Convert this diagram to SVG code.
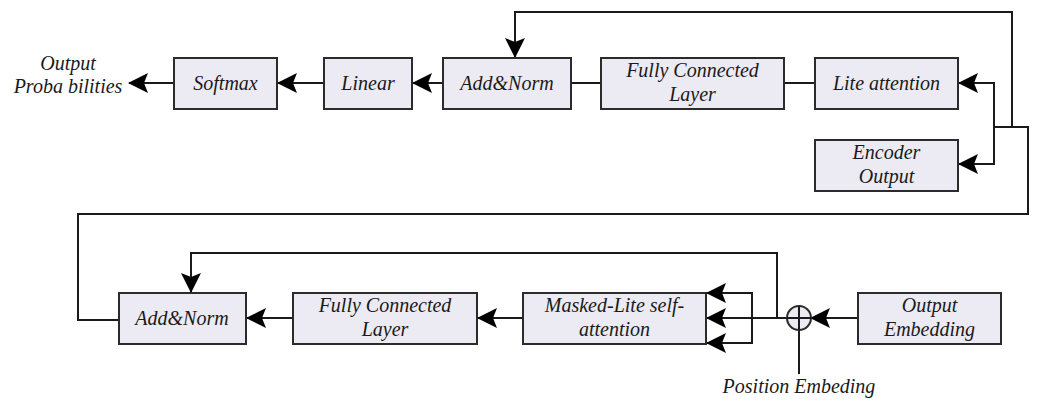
<svg xmlns="http://www.w3.org/2000/svg" width="1040" height="405" viewBox="0 0 1040 405">
  <style>
    .box { fill: #ECEAF2; stroke: #2b2b2b; stroke-width: 2; }
    .wire { fill: none; stroke: #1a1a1a; stroke-width: 2; }
    .lbl { font-family: 'Liberation Serif', 'Times New Roman', Times, 'DejaVu Serif', serif; font-style: italic; font-size: 20px; fill: #1a1a1a; text-anchor: middle; }
  </style>
  <defs>
    <marker id="arrow" markerUnits="userSpaceOnUse" markerWidth="20" markerHeight="20" viewBox="0 0 20 20" refX="19" refY="10" orient="auto">
      <path d="M0,0 L20,10 L0,20 L4,10 Z" fill="#000"/>
    </marker>
  </defs>

  <rect width="1040" height="405" fill="#fff"/>

  <!-- connectors -->
  <g id="connectors">
    <path class="wire" d="M174,83 H129" marker-end="url(#arrow)"/>
    <path class="wire" d="M324,83 H278" marker-end="url(#arrow)"/>
    <path class="wire" d="M443,83 H413" marker-end="url(#arrow)"/>
    <path class="wire" d="M601,83 H571"/>
    <path class="wire" d="M815,83 H784"/>
    <path class="wire" d="M1012,127 V12 H515 V57" marker-end="url(#arrow)"/>
    <path class="wire" d="M994,127 H1028 V214 H78 V320 H133"/>
    <path class="wire" d="M994,127 V83 H959" marker-end="url(#arrow)"/>
    <path class="wire" d="M994,127 V164 H959" marker-end="url(#arrow)"/>
    <path class="wire" d="M293,318 H247" marker-end="url(#arrow)"/>
    <path class="wire" d="M523,318 H478" marker-end="url(#arrow)"/>
    <path class="wire" d="M787,318 H707" marker-end="url(#arrow)"/>
    <path class="wire" d="M752,318 V293 H707" marker-end="url(#arrow)"/>
    <path class="wire" d="M752,318 V343 H707" marker-end="url(#arrow)"/>
    <path class="wire" d="M777,318 V253 H191 V292" marker-end="url(#arrow)"/>
    <path class="wire" d="M858,318 H811" marker-end="url(#arrow)"/>
    <path class="wire" d="M799,330 V374"/>
  </g>

  <!-- top row -->
  <g id="output-probabilities">
    <text class="lbl" x="68" y="70">Output</text>
    <text class="lbl" x="68" y="93">Proba bilities</text>
  </g>
  <g id="softmax">
    <rect class="box" x="174" y="58" width="103" height="51"/>
    <text class="lbl" x="225.5" y="90">Softmax</text>
  </g>
  <g id="linear">
    <rect class="box" x="324" y="58" width="88" height="51"/>
    <text class="lbl" x="368" y="90">Linear</text>
  </g>
  <g id="add-norm-top">
    <rect class="box" x="443" y="58" width="128" height="51"/>
    <text class="lbl" x="507" y="90">Add&amp;Norm</text>
  </g>
  <g id="fc-top">
    <rect class="box" x="601" y="58" width="183" height="51"/>
    <text class="lbl" x="692.5" y="77">Fully Connected</text>
    <text class="lbl" x="692.5" y="101">Layer</text>
  </g>
  <g id="lite-attention">
    <rect class="box" x="815" y="58" width="143" height="51"/>
    <text class="lbl" x="886.5" y="90">Lite attention</text>
  </g>
  <g id="encoder-output">
    <rect class="box" x="815" y="140" width="143" height="51"/>
    <text class="lbl" x="886.5" y="159">Encoder</text>
    <text class="lbl" x="886.5" y="183">Output</text>
  </g>

  <!-- bottom row -->
  <g id="add-norm-bottom">
    <rect class="box" x="119" y="293" width="127" height="51"/>
    <text class="lbl" x="182" y="325">Add&amp;Norm</text>
  </g>
  <g id="fc-bottom">
    <rect class="box" x="293" y="293" width="184" height="51"/>
    <text class="lbl" x="385" y="312">Fully Connected</text>
    <text class="lbl" x="385" y="336">Layer</text>
  </g>
  <g id="masked-lite-self-attention">
    <rect class="box" x="523" y="293" width="183" height="51"/>
    <text class="lbl" x="614.5" y="312">Masked-Lite self-</text>
    <text class="lbl" x="614.5" y="336">attention</text>
  </g>
  <g id="sum">
    <circle class="box" cx="799" cy="318" r="12"/>
    <path class="wire" d="M787,318 H811 M799,306 V330"/>
  </g>
  <g id="output-embedding">
    <rect class="box" x="858" y="293" width="143" height="51"/>
    <text class="lbl" x="929.5" y="312">Output</text>
    <text class="lbl" x="929.5" y="336">Embedding</text>
  </g>
  <g id="position-embedding">
    <text class="lbl" x="799" y="393">Position Embeding</text>
  </g>
</svg>
